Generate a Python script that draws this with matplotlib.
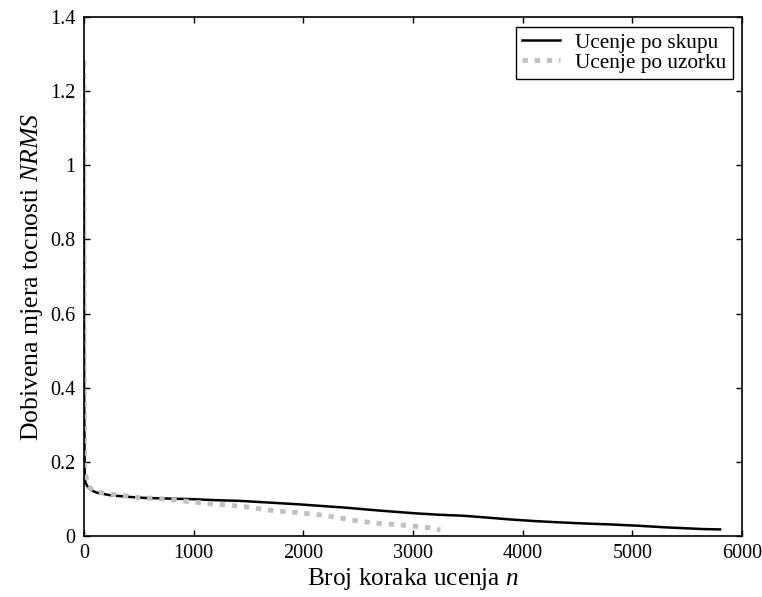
import matplotlib
matplotlib.use("Agg")
import matplotlib.pyplot as plt

# learning curves
n_batch = [0, 3, 8, 15, 30, 64, 120, 246, 400, 556, 800, 975, 1195, 1422, 1714, 1969, 2179,
           2397, 2607, 2817, 3045, 3245, 3455, 3673, 3883, 4111, 4339, 4567, 4795, 5050,
           5315, 5643, 5798]
nrms_batch = [1.28, 0.40, 0.155, 0.145, 0.135, 0.124, 0.117, 0.110, 0.106, 0.103, 0.101, 0.0998,
              0.097, 0.095, 0.090, 0.0855, 0.081, 0.0765, 0.071, 0.066, 0.061, 0.0575, 0.055,
              0.050, 0.045, 0.0405, 0.037, 0.034, 0.0315, 0.028, 0.0234, 0.019, 0.018]

n_sample = [0, 3, 8, 15, 40, 64, 100, 246, 500, 750, 900, 1000, 1130, 1331, 1531, 1741, 1969,
            2170, 2270, 2489, 2698, 2908, 3127, 3218, 3250]
nrms_sample = [1.28, 0.45, 0.18, 0.165, 0.14, 0.127, 0.120, 0.113, 0.104, 0.0998, 0.095, 0.092,
               0.088, 0.0836, 0.077, 0.068, 0.063, 0.0566, 0.052, 0.041, 0.034, 0.0297, 0.0234,
               0.018, 0.017]

x_ticks = [0, 1000, 2000, 3000, 4000, 5000, 6000]
y_ticks = [0, 0.2, 0.4, 0.6, 0.8, 1, 1.2, 1.4]
y_tick_labels = ['0', '0.2', '0.4', '0.6', '0.8', '1', '1.2', '1.4']

plt.rcParams['font.family'] = ['Liberation Serif', 'DejaVu Serif']
plt.rcParams['mathtext.fontset'] = 'custom'
plt.rcParams['mathtext.it'] = 'Liberation Serif:italic'
plt.rcParams['mathtext.rm'] = 'Liberation Serif'

fig = plt.figure(figsize=(7.62, 5.97), dpi=100)
ax = fig.add_axes([0.110, 0.102, 0.864, 0.8695])

ax.plot(n_batch, nrms_batch, color='black', linewidth=1.8, label='Ucenje po skupu')
ax.plot(n_sample, nrms_sample, color='#c0c0c0', linewidth=3.5, dashes=(1.1, 1.4),
        label='Ucenje po uzorku')

ax.set_xlim(0, 6000)
ax.set_ylim(0, 1.4)
ax.set_xticks(x_ticks)
ax.set_yticks(y_ticks)
ax.set_yticklabels(y_tick_labels)
ax.tick_params(direction='in', top=True, right=True, length=4, width=1,
               labelsize=14.5, pad=6)
for s in ax.spines.values():
    s.set_linewidth(1.2)

ax.set_xlabel('Broj koraka ucenja $\\mathit{n}$', fontsize=18.2, labelpad=2)
ax.set_ylabel('Dobivena mjera tocnosti $\\mathit{NRMS}$', fontsize=18.5, labelpad=4)

leg = ax.legend(loc='upper right', fontsize=15.3, fancybox=False, framealpha=1,
                edgecolor='black', borderaxespad=0.45, handlelength=1.8,
                borderpad=0.3, labelspacing=0.0, handletextpad=0.7)
leg.get_frame().set_linewidth(1.0)

fig.savefig('out.png', dpi=100)
